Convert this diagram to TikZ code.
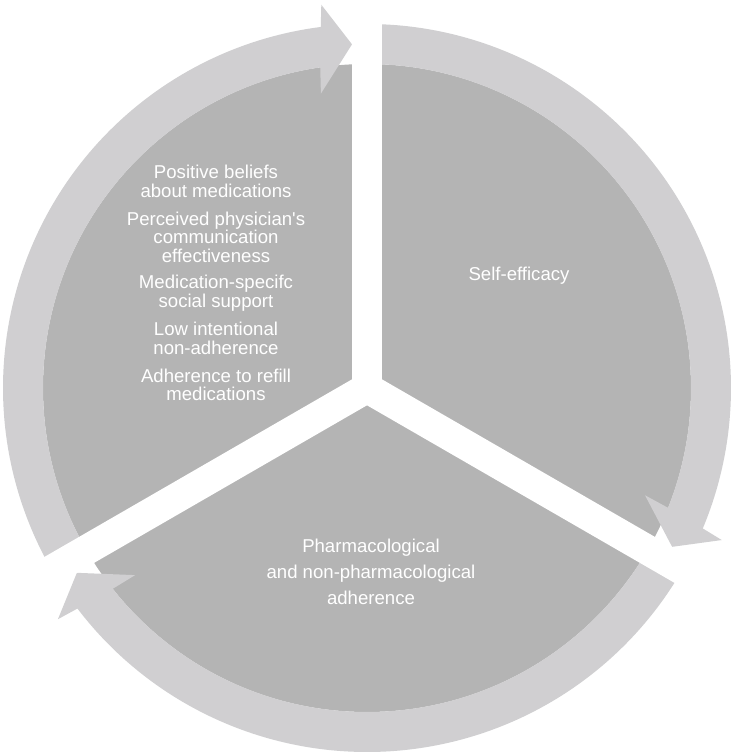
\documentclass[tikz,border=0pt]{standalone}
\usepackage{fontspec}
\setmainfont{Liberation Sans}
\usetikzlibrary{calc}
\definecolor{sectorgray}{RGB}{180,180,180}
\definecolor{arrowgray}{RGB}{208,207,209}

\begin{document}
\begin{tikzpicture}[x=1pt, y=1pt, line join=round,
  sector/.style={fill=sectorgray},
  cyclearrow/.style={fill=arrowgray},
  gap/.style={draw=white, line width=30pt, line cap=round},
  celltext/.style={text=white, font=\fontsize{18.6}{18.5}\selectfont, align=center, inner sep=0pt}]
  \useasboundingbox (0,0) rectangle (735,755);
  \coordinate (O) at (367,367);

  % Pie
  \fill[sector] (O) circle[radius=324];

  % Arrows round the pie
  \foreach \a/\t in {210/92.5, 90/-27.5, -30/-147.5} {
    \fill[cyclearrow, shift={(O)}] (\a:364) arc[start angle=\a, end angle=\t+4.8, radius=364]
      -- (\t+4.3:386) -- (\t:344) -- (\t+6.4:298) -- (\t+5.8:324)
      arc[start angle=\t+5.8, end angle=\a, radius=324] -- cycle;
  }

  % Gaps
  \coordinate (G1) at ($(O)+(90:420)$);
  \coordinate (G2) at ($(O)+(210:420)$);
  \coordinate (G3) at ($(O)+(330:420)$);
  \draw[gap] (O) -- (G1);
  \draw[gap] (O) -- (G2);
  \draw[gap] (O) -- (G3);

  % Labels
  \node[celltext, anchor=north] (beliefs) at (216,590)
    {Positive beliefs\\about medications\\[9.5pt]
     Perceived physician\textquotesingle s\\communication\\effectiveness\\[8pt]
     Medication-specifc\\social support\\[10pt]
     Low intentional\\non-adherence\\[9.5pt]
     Adherence to refill\\medications};
  \node[celltext] (efficacy) at (519,479) {Self-efficacy};
  \node[celltext, anchor=north, font=\fontsize{18.6}{26}\selectfont] (adherence) at (371,216)
    {Pharmacological\\and non-pharmacological\\adherence};
\end{tikzpicture}
\end{document}
